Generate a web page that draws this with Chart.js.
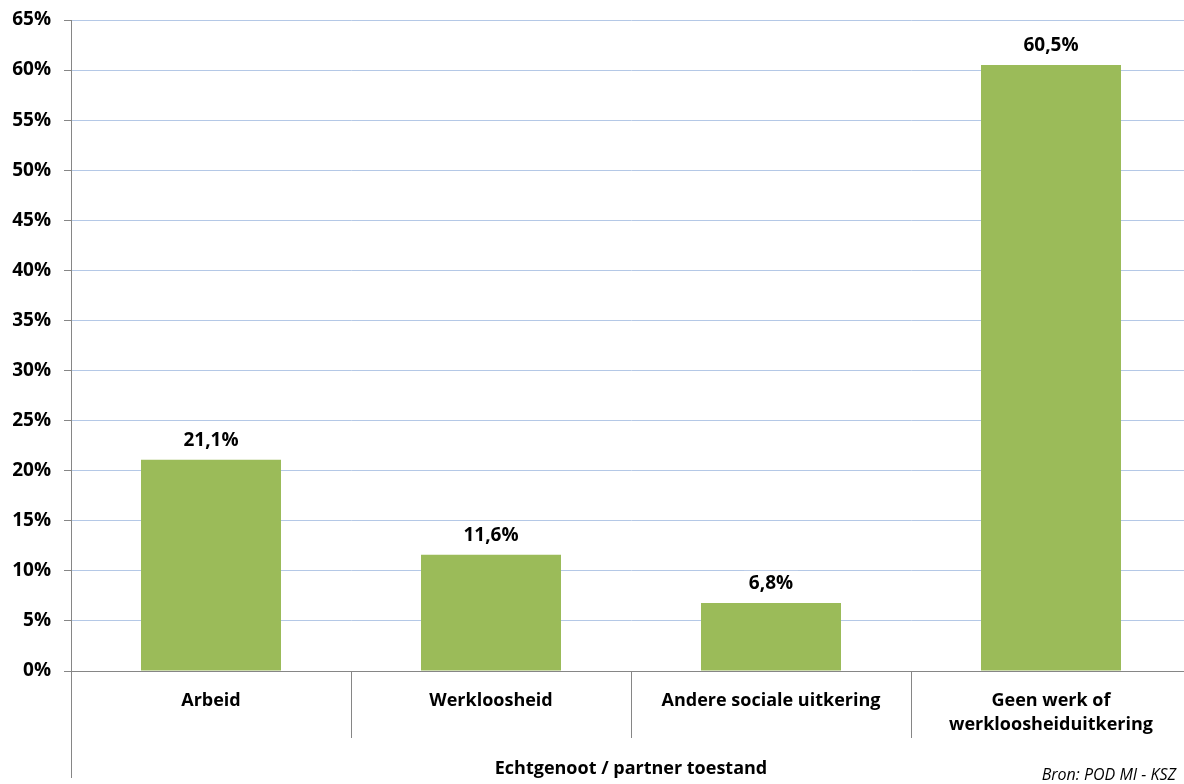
<!DOCTYPE html>
<html lang="nl">
<head>
  <meta charset="UTF-8">
  <title>Echtgenoot / partner toestand</title>
  <script src="https://cdn.jsdelivr.net/npm/chart.js"></script>
  <style>
    html, body { margin: 0; padding: 0; background: #fff; overflow: hidden; }
    /* plot runs a few pixels past the right edge, as in the original */
    #wrap { width: 1191px; height: 784px; }
  </style>
</head>
<body>
<div id="wrap"><canvas id="chart"></canvas></div>

<script>
  const categories = ['Arbeid', 'Werkloosheid', 'Andere sociale uitkering', ['Geen werk of', 'werkloosheiduitkering']];
  const values = [21.1, 11.6, 6.8, 60.5];
  const axisTitle = 'Echtgenoot / partner toestand';
  const sourceNote = 'Bron: POD MI - KSZ';

  const FONT = "'Open Sans', 'DejaVu Sans', sans-serif";
  const AXIS_GREY = '#868686';

  // white-backed value labels above the bars
  const valueLabels = {
    id: 'valueLabels',
    afterDatasetsDraw(chart) {
      const ctx = chart.ctx;
      const meta = chart.getDatasetMeta(0);
      ctx.save();
      ctx.font = 'bold 19px ' + FONT;
      ctx.textAlign = 'center';
      ctx.textBaseline = 'middle';
      meta.data.forEach((bar, i) => {
        const txt = values[i].toFixed(1).replace('.', ',') + '%';
        const w = ctx.measureText(txt).width;
        const y = bar.y - 19;
        ctx.fillStyle = '#fff';
        ctx.fillRect(bar.x - w / 2 - 5, y - 13, w + 10, 26);
        ctx.fillStyle = '#000';
        ctx.fillText(txt, bar.x, y);
      });
      ctx.restore();
    }
  };

  // category separators below the axis, long value-axis line, source note
  const frame = {
    id: 'frame',
    afterDraw(chart) {
      const ctx = chart.ctx;
      const x = chart.scales.x;
      const area = chart.chartArea;
      ctx.save();
      ctx.strokeStyle = AXIS_GREY;
      ctx.lineWidth = 1;
      for (let i = 0; i < values.length - 1; i++) {
        const px = Math.round((x.getPixelForValue(i) + x.getPixelForValue(i + 1)) / 2) + 0.5;
        ctx.beginPath();
        ctx.moveTo(px, area.bottom);
        ctx.lineTo(px, area.bottom + 67);
        ctx.stroke();
      }
      ctx.beginPath();
      ctx.moveTo(area.left + 0.5, area.bottom);
      ctx.lineTo(area.left + 0.5, area.bottom + 107);
      ctx.stroke();

      ctx.fillStyle = '#000';
      ctx.font = 'italic 16px ' + FONT;
      ctx.textAlign = 'right';
      ctx.textBaseline = 'middle';
      ctx.fillText(sourceNote, 1176, chart.height - 9);
      ctx.restore();
    }
  };

  new Chart(document.getElementById('chart'), {
    type: 'bar',
    data: {
      labels: categories,
      datasets: [{
        data: values,
        backgroundColor: '#9BBB59',
        categoryPercentage: 1,
        barPercentage: 0.5
      }]
    },
    options: {
      responsive: true,
      maintainAspectRatio: false,
      animation: false,
      layout: { padding: { top: 20, right: 0, bottom: 0, left: 0 } },
      plugins: {
        legend: { display: false },
        tooltip: { enabled: false }
      },
      scales: {
        y: {
          min: 0,
          max: 65,
          afterFit(scale) {
            scale.width = 71;
            scale.paddingTop = 0;
            scale.paddingBottom = 0;
          },
          ticks: {
            stepSize: 5,
            padding: 13,
            color: '#000',
            font: { family: FONT, size: 19, weight: 'bold', lineHeight: 1 },
            callback: v => v + '%'
          },
          grid: {
            color: '#B4C8E6',
            tickColor: AXIS_GREY,
            tickLength: 7
          },
          border: { color: AXIS_GREY }
        },
        x: {
          afterFit(scale) { scale.height = 113; },
          ticks: {
            padding: 10,
            color: '#000',
            maxRotation: 0,
            autoSkip: false,
            font: { family: FONT, size: 18, weight: 'bold', lineHeight: '24px' }
          },
          grid: { display: false },
          border: { color: AXIS_GREY },
          title: {
            display: true,
            text: axisTitle,
            color: '#000',
            font: { family: FONT, size: 18, weight: 'bold' },
            padding: { top: 0, bottom: 4 }
          }
        }
      }
    },
    plugins: [valueLabels, frame]
  });
</script>
</body>
</html>
